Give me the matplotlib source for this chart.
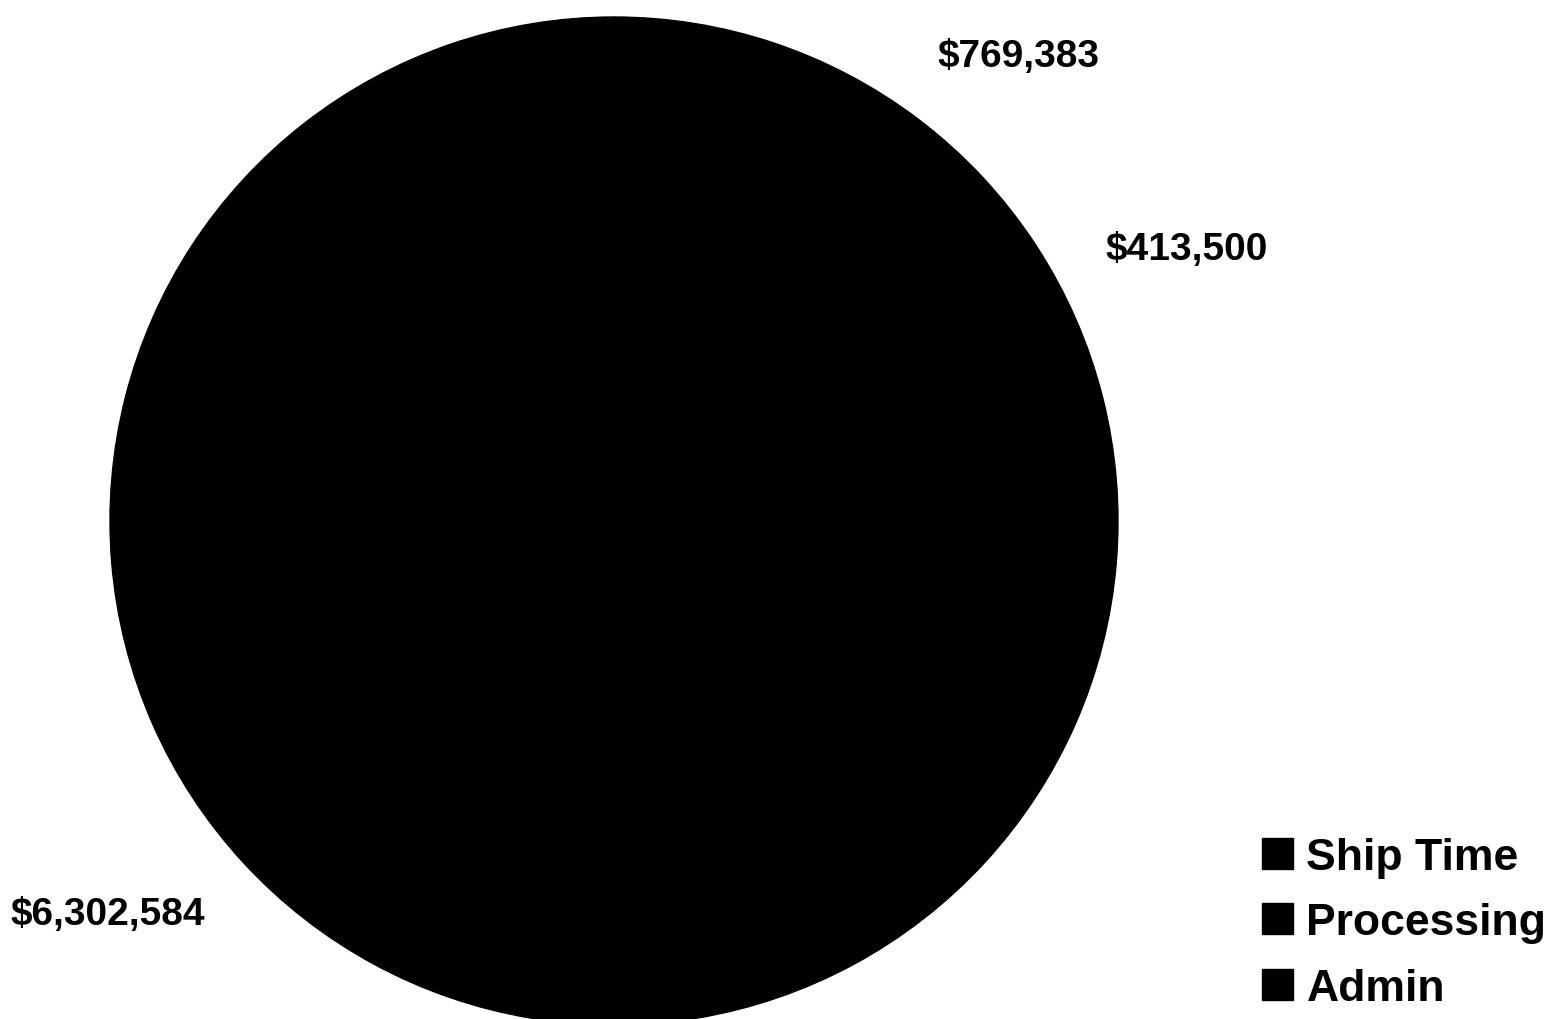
import matplotlib
matplotlib.use("Agg")
import matplotlib.pyplot as plt

# Cost breakdown
categories = ["Ship Time", "Processing", "Admin"]
values = [769383, 413500, 6302584]
colors = ["#000000", "#000000", "#000000"]

plt.rcParams["font.family"] = ["Liberation Sans", "DejaVu Sans"]

W, H = 1554, 1020
fig = plt.figure(figsize=(W / 100, H / 100), dpi=100)
fig.patch.set_facecolor("white")

cx, cy, r = 614, 522, 504
ax = fig.add_axes([(cx - r) / W, (H - cy - r) / H, 2 * r / W, 2 * r / H])
wedges, _ = ax.pie(values, colors=colors, startangle=90, counterclock=False,
                   radius=1.0, wedgeprops=dict(edgecolor="#000000", linewidth=1))
ax.set_xlim(-1, 1)
ax.set_ylim(-1, 1)
ax.set_aspect("equal")
ax.axis("off")

# Value labels placed beside the pie
label_pos = {"Ship Time": (1018, 57), "Processing": (1187, 250), "Admin": (108, 915)}
for cat, val in zip(categories, values):
    x, y = label_pos[cat]
    fig.text(x / W, 1 - y / H, f"${val:,.0f}", ha="center", va="center",
             fontsize=28, fontweight="bold", color="black")

leg = fig.legend(wedges, categories, loc="upper left",
                 bbox_to_anchor=(1262 / W, 1 - 838 / H), frameon=False,
                 prop=dict(size=32, weight="bold"), handlelength=0.7,
                 handleheight=0.7, handletextpad=0.3, labelspacing=0.55,
                 borderaxespad=0, borderpad=0)

fig.savefig("out.png", dpi=100, facecolor="white")
